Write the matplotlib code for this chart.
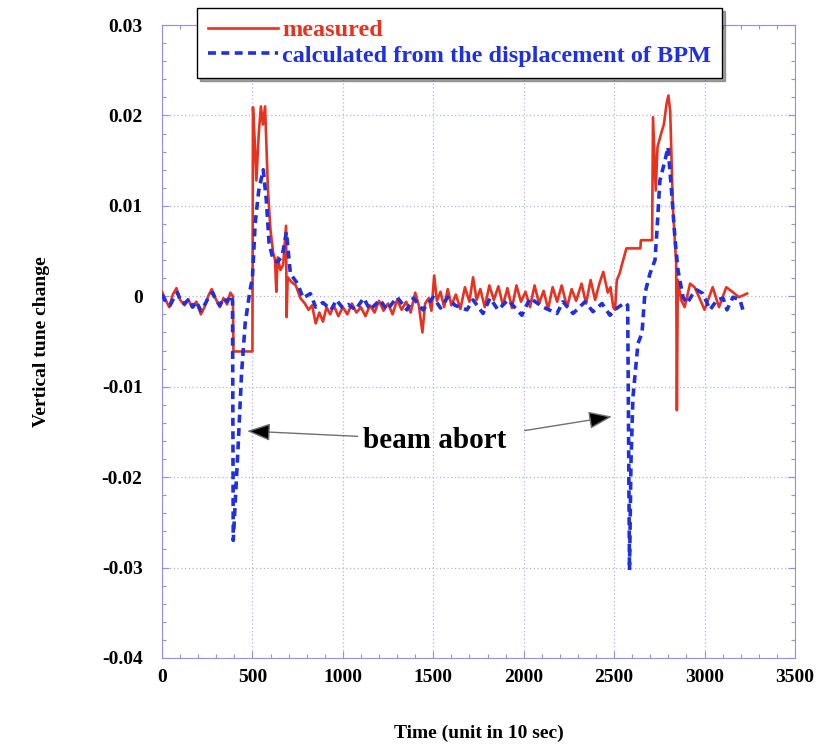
import numpy as np
import matplotlib
matplotlib.use("Agg")
import matplotlib.pyplot as plt
from matplotlib.ticker import MultipleLocator

plt.rcParams['font.family'] = ['Liberation Serif', 'DejaVu Serif']
plt.rcParams['font.weight'] = 'bold'
plt.rcParams['axes.labelweight'] = 'bold'

# measured tune change (red)
t_meas = [0, 20, 40, 60, 80, 100, 125, 145, 165, 190, 215, 235, 255, 275, 295, 320, 340, 360, 378, 392,
          395, 500, 503, 512, 522, 535, 547, 558, 570, 586, 600, 615, 625, 632, 640, 655, 670, 686, 689,
          695, 715, 740, 765, 790, 810, 830, 850, 870, 890, 910, 930, 950, 975, 1000, 1025, 1050, 1075,
          1100, 1125, 1150, 1175, 1200, 1225, 1250, 1275, 1300, 1325, 1350, 1375, 1400, 1420, 1440, 1455,
          1475, 1490, 1505, 1520, 1540, 1560, 1580, 1600, 1625, 1650, 1675, 1700, 1720, 1740, 1760, 1785,
          1810, 1835, 1860, 1885, 1910, 1935, 1960, 1985, 2010, 2035, 2060, 2085, 2110, 2135, 2160, 2185,
          2210, 2240, 2265, 2290, 2320, 2345, 2370, 2395, 2420, 2440, 2465, 2480, 2495, 2505, 2515, 2530,
          2550, 2568, 2645, 2648, 2710, 2715, 2730, 2740, 2760, 2775, 2790, 2800, 2810, 2825, 2843, 2847,
          2852, 2870, 2890, 2920, 2945, 2970, 3000, 3045, 3080, 3120, 3160, 3190, 3235]
v_meas = [0.0005, -0.0004, -0.0012, 0.0002, 0.0009, -0.0004, -0.0010, -0.0003, -0.0012, -0.0006,
          -0.0020, -0.0012, 0.0000, 0.0008, -0.0002, -0.0012, -0.0002, -0.0009, 0.0004, 0.0000,
          -0.0061, -0.0061, 0.0209, 0.0175, 0.0128, 0.0180, 0.0210, 0.0190, 0.0210, 0.0117, 0.0073,
          0.0048, 0.0040, 0.0005, 0.0043, 0.0029, 0.0035, 0.0078, -0.0023,
          0.0021, 0.0016, 0.0012, -0.0002, -0.0008, -0.0015, -0.0010, -0.0030, -0.0018, -0.0028, -0.0012,
          -0.0020, -0.0010, -0.0022, -0.0012, -0.0020, -0.0008, -0.0018,
          -0.0012, -0.0022, -0.0010, -0.0018, -0.0005, -0.0016, -0.0008, -0.0020, -0.0004, -0.0015,
          -0.0006, -0.0018, 0.0004, -0.0010, -0.0040, -0.0008,
          -0.0002, -0.0016, 0.0023, -0.0005, 0.0005, -0.0012, 0.0008, -0.0010, 0.0002, -0.0014, 0.0010,
          -0.0006, 0.0021, -0.0004, 0.0008, -0.0012,
          0.0012, -0.0004, 0.0011, -0.0010, 0.0009, -0.0013, 0.0012, -0.0006, 0.0005, -0.0012, 0.0012,
          -0.0008, 0.0006, -0.0014, 0.0010, -0.0006,
          0.0012, -0.0012, 0.0008, -0.0005, 0.0014, -0.0008, 0.0018, -0.0004, 0.0015, 0.0027, 0.0004,
          0.0010, -0.0012, -0.0015, 0.0018, 0.0025,
          0.0040, 0.0053, 0.0053, 0.0062, 0.0062, 0.0198, 0.0117, 0.0165, 0.0180, 0.0190, 0.0213, 0.0222,
          0.0205, 0.0098, 0.0037, -0.0126,
          0.0018, -0.0004, -0.0012, 0.0014, 0.0010, -0.0001, -0.0015, 0.0010, -0.0012, 0.0010, 0.0004,
          -0.0001, 0.0003]

# calculated from BPM displacement (blue)
t_calc = [0, 20, 45, 65, 85, 105, 125, 150, 170, 190, 215, 240, 260, 280, 300, 320, 340, 360, 378, 390,
          394, 420, 440, 460, 487, 500, 515, 535, 560, 577, 592, 615, 640, 665, 688, 710, 735, 750, 780,
          820, 850, 890, 935, 965, 995, 1030, 1070, 1115, 1150, 1205, 1245, 1300, 1354, 1390, 1443, 1500,
          1540, 1580, 1620, 1686, 1720, 1775, 1814, 1858, 1913, 1990, 2035, 2107, 2184, 2217, 2273, 2339,
          2383, 2433, 2477, 2516, 2560, 2575, 2585, 2593, 2604, 2632, 2654, 2670, 2698, 2726, 2737, 2753,
          2781, 2798, 2820, 2836, 2853, 2881, 2903, 2930, 2958, 2991, 3030, 3069, 3102, 3124, 3157, 3196,
          3212, 3240]
v_calc = [0.0002, -0.0006, -0.0010, -0.0002, 0.0004, -0.0006, -0.0008, -0.0003, -0.0012, -0.0006,
          -0.0016, -0.0008, 0.0000, 0.0004, -0.0005, -0.0010, -0.0002, -0.0006, 0.0001, -0.0005,
          -0.0270, -0.0170, -0.0085, -0.0030, 0.0007, 0.0020, 0.0080, 0.0117, 0.0140, 0.0106, 0.0059,
          0.0040, 0.0038, 0.0045, 0.0071, 0.0025, 0.0018, 0.0014, -0.0002,
          0.0003, -0.0012, -0.0007, -0.0015, -0.0004, -0.0012, -0.0009, -0.0015, -0.0002, -0.0015,
          -0.0004, -0.0015, -0.0001, -0.0015, -0.0002, -0.0015, -0.0001,
          -0.0013, -0.0001, -0.0010, -0.0015, -0.0004, -0.0019, -0.0002, -0.0015, -0.0004, -0.0021,
          -0.0002, -0.0012, -0.0019, -0.0006, -0.0019, -0.0006,
          -0.0017, -0.0008, -0.0021, -0.0013, -0.0007, -0.0010, -0.0303, -0.0185, -0.0112, -0.0052,
          -0.0041, 0.0003, 0.0025, 0.0040, 0.0073, 0.0128,
          0.0150, 0.0165, 0.0110, 0.0065, 0.0029, -0.0001, -0.0008, 0.0001, 0.0007, 0.0003, -0.0015,
          -0.0004, -0.0002, -0.0015, -0.0001, -0.0004,
          -0.0015, -0.0015]

xticks = [0, 500, 1000, 1500, 2000, 2500, 3000, 3500]
xticklabels = ['0', '500', '1000', '1500', '2000', '2500', '3000', '3500']
yticks = [-0.04, -0.03, -0.02, -0.01, 0, 0.01, 0.02, 0.03]
yticklabels = ['-0.04', '-0.03', '-0.02', '-0.01', '0', '0.01', '0.02', '0.03']

red = '#e83220'
blue = '#1f30e0'
axcol = '#9090f0'

fig = plt.figure(figsize=(8.32, 7.45), dpi=100)
ax = fig.add_axes([0.1947, 0.1168, 0.7608, 0.8496])

l1, = ax.plot(t_meas, v_meas, color=red, lw=1.9, label='measured', zorder=3)
l2, = ax.plot(t_calc, v_calc, color=blue, lw=2.6, ls=(0, (2.2, 1.5)),
              label='calculated from the displacement of BPM', zorder=4)

ax.set_xlim(0, 3500)
ax.set_ylim(-0.04, 0.03)
ax.set_xticks(xticks)
ax.set_xticklabels(xticklabels)
ax.set_yticks(yticks)
ax.set_yticklabels(yticklabels)
ax.xaxis.set_minor_locator(MultipleLocator(100))
ax.yaxis.set_minor_locator(MultipleLocator(0.002))
ax.tick_params(which='both', direction='in', top=True, right=True, color=axcol, width=0.8)
ax.tick_params(which='major', length=5, labelsize=14)
ax.tick_params(which='minor', length=3)
ax.tick_params(axis='y', pad=14)
ax.tick_params(axis='x', pad=8)
for s in ax.spines.values():
    s.set_color(axcol)
    s.set_linewidth(0.8)
ax.grid(True, which='major', ls=(0, (1, 2)), color='#b0b0f8', lw=0.9)

ax.set_xlabel('Time (unit in 10 sec)', fontsize=14, labelpad=28)
ax.set_ylabel('Vertical tune change', fontsize=14, labelpad=37)

leg = fig.legend(handles=[l1, l2], loc='upper left', bbox_to_anchor=(0.2368, 0.989),
                 borderaxespad=0, fontsize=17.5, handlelength=2.9, handletextpad=0.15,
                 borderpad=0.45, labelspacing=0.15, fancybox=False, shadow=True,
                 framealpha=1, edgecolor='black')
leg.get_frame().set_linewidth(1.0)
leg.texts[0].set_color(red)
leg.texts[1].set_color(blue)

aprops = dict(arrowstyle='-|>,head_length=0.8,head_width=0.3', fc='black', ec='#707070',
              lw=1.0, shrinkB=0, mutation_scale=18)
ax.annotate('beam abort', xy=(470, -0.0149), xytext=(1509, -0.0159),
            ha='center', va='center', fontsize=21, arrowprops=aprops)
ax.annotate('', xy=(2488, -0.0133), xytext=(1990, -0.0149), arrowprops=aprops)

fig.savefig('out.png', dpi=100)
